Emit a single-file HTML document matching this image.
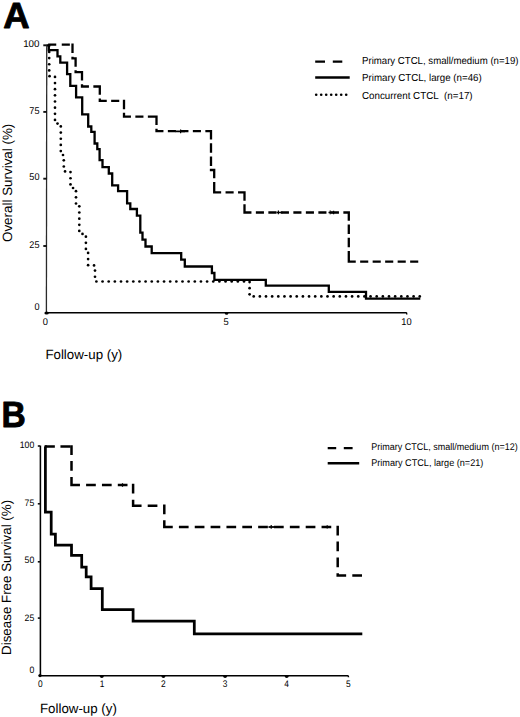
<!DOCTYPE html>
<html><head><meta charset="utf-8"><style>
html,body{margin:0;padding:0;background:#fff;width:520px;height:717px;overflow:hidden;}
svg{position:absolute;left:0;top:0;display:block;}
text{font-family:"Liberation Sans",sans-serif;fill:#000;}
</style></head><body>
<svg width="520" height="717" viewBox="0 0 520 717" text-rendering="geometricPrecision">
<rect width="520" height="717" fill="#fff"/>
<text transform="translate(3.20,28.10)" text-anchor="start" font-size="36.50" font-weight="bold" stroke="#000" stroke-width="0.9" stroke-linejoin="round">A</text>
<text transform="translate(1.60,426.80) scale(0.920,1)" text-anchor="start" font-size="36.50" font-weight="bold" stroke="#000" stroke-width="0.9" stroke-linejoin="round">B</text>
<path d="M46.75,44.6 L46.4,312.8" stroke="#2a2a2a" stroke-width="1.3" fill="none"/>
<path d="M46.4,312.8 H406.2 Q406.8,312.8 406.8,314.5" stroke="#000" stroke-width="1.45" fill="none"/>
<path d="M43.3,45.3 H46.8" stroke="#111" stroke-width="1.9"/>
<path d="M43.3,111.9 H46.8" stroke="#111" stroke-width="1.9"/>
<path d="M43.3,178.7 H46.8" stroke="#111" stroke-width="1.9"/>
<path d="M43.3,246.0 H46.8" stroke="#111" stroke-width="1.9"/>
<ellipse cx="46.6" cy="312.9" rx="2.2" ry="1.5" fill="#000"/>
<ellipse cx="226.6" cy="313.4" rx="1.7" ry="1.3" fill="#000"/>
<text transform="translate(39.50,47.40)" text-anchor="end" font-size="9.80">100</text>
<text transform="translate(39.50,114.10) scale(0.930,1)" text-anchor="end" font-size="9.80">75</text>
<text transform="translate(39.50,180.40) scale(0.930,1)" text-anchor="end" font-size="9.80">50</text>
<text transform="translate(39.50,248.10) scale(0.930,1)" text-anchor="end" font-size="9.80">25</text>
<text transform="translate(39.50,310.40) scale(0.930,1)" text-anchor="end" font-size="9.80">0</text>
<text transform="translate(45.40,324.80) scale(0.950,1)" text-anchor="middle" font-size="9.80">0</text>
<text transform="translate(226.00,324.80) scale(0.950,1)" text-anchor="middle" font-size="9.80">5</text>
<text transform="translate(406.50,324.80) scale(0.950,1)" text-anchor="middle" font-size="9.80">10</text>
<text transform="translate(45.40,358.80)" text-anchor="start" font-size="13.30">Follow-up (y)</text>
<text transform="translate(11.80,242.00) rotate(-90)" text-anchor="start" font-size="13.40">Overall Survival (%)</text>
<g fill="#000"><circle cx="49.20" cy="45.80" r="1.35"/><circle cx="49.20" cy="51.95" r="1.35"/><circle cx="49.20" cy="58.10" r="1.35"/><circle cx="49.20" cy="64.25" r="1.35"/><circle cx="49.20" cy="70.40" r="1.35"/><circle cx="49.55" cy="76.20" r="1.35"/><circle cx="55.00" cy="76.90" r="1.35"/><circle cx="55.00" cy="83.05" r="1.35"/><circle cx="55.00" cy="89.20" r="1.35"/><circle cx="55.00" cy="95.35" r="1.35"/><circle cx="55.00" cy="101.50" r="1.35"/><circle cx="55.00" cy="107.65" r="1.35"/><circle cx="55.00" cy="113.80" r="1.35"/><circle cx="55.00" cy="119.95" r="1.35"/><circle cx="57.50" cy="123.60" r="1.35"/><circle cx="60.80" cy="126.45" r="1.35"/><circle cx="60.80" cy="132.60" r="1.35"/><circle cx="60.80" cy="138.75" r="1.35"/><circle cx="60.80" cy="144.90" r="1.35"/><circle cx="60.80" cy="151.05" r="1.35"/><circle cx="63.00" cy="155.00" r="1.35"/><circle cx="63.80" cy="160.35" r="1.35"/><circle cx="63.80" cy="166.50" r="1.35"/><circle cx="65.05" cy="171.40" r="1.35"/><circle cx="70.50" cy="172.10" r="1.35"/><circle cx="70.50" cy="178.25" r="1.35"/><circle cx="70.50" cy="184.40" r="1.35"/><circle cx="73.05" cy="188.00" r="1.35"/><circle cx="76.00" cy="191.20" r="1.35"/><circle cx="76.00" cy="197.35" r="1.35"/><circle cx="76.00" cy="203.50" r="1.35"/><circle cx="79.30" cy="206.35" r="1.35"/><circle cx="79.30" cy="212.50" r="1.35"/><circle cx="79.30" cy="218.65" r="1.35"/><circle cx="79.30" cy="224.80" r="1.35"/><circle cx="79.30" cy="230.95" r="1.35"/><circle cx="82.50" cy="233.90" r="1.35"/><circle cx="85.90" cy="236.65" r="1.35"/><circle cx="85.90" cy="242.80" r="1.35"/><circle cx="85.90" cy="248.95" r="1.35"/><circle cx="88.10" cy="252.90" r="1.35"/><circle cx="88.10" cy="259.05" r="1.35"/><circle cx="88.10" cy="265.20" r="1.35"/><circle cx="94.05" cy="265.40" r="1.35"/><circle cx="95.00" cy="270.60" r="1.35"/><circle cx="95.00" cy="276.75" r="1.35"/><circle cx="96.40" cy="281.50" r="1.35"/><circle cx="102.55" cy="281.50" r="1.35"/><circle cx="108.70" cy="281.50" r="1.35"/><circle cx="114.85" cy="281.50" r="1.35"/><circle cx="121.00" cy="281.50" r="1.35"/><circle cx="127.15" cy="281.50" r="1.35"/><circle cx="133.30" cy="281.50" r="1.35"/><circle cx="139.45" cy="281.50" r="1.35"/><circle cx="145.60" cy="281.50" r="1.35"/><circle cx="151.75" cy="281.50" r="1.35"/><circle cx="157.90" cy="281.50" r="1.35"/><circle cx="164.05" cy="281.50" r="1.35"/><circle cx="170.20" cy="281.50" r="1.35"/><circle cx="176.35" cy="281.50" r="1.35"/><circle cx="182.50" cy="281.50" r="1.35"/><circle cx="188.65" cy="281.50" r="1.35"/><circle cx="194.80" cy="281.50" r="1.35"/><circle cx="200.95" cy="281.50" r="1.35"/><circle cx="207.10" cy="281.50" r="1.35"/><circle cx="213.25" cy="281.50" r="1.35"/><circle cx="219.40" cy="281.50" r="1.35"/><circle cx="225.55" cy="281.50" r="1.35"/><circle cx="231.70" cy="281.50" r="1.35"/><circle cx="237.85" cy="281.50" r="1.35"/><circle cx="244.00" cy="281.50" r="1.35"/><circle cx="249.60" cy="282.05" r="1.35"/><circle cx="249.60" cy="288.20" r="1.35"/><circle cx="249.60" cy="294.35" r="1.35"/><circle cx="253.70" cy="296.40" r="1.35"/><circle cx="259.85" cy="296.40" r="1.35"/><circle cx="266.00" cy="296.40" r="1.35"/><circle cx="272.15" cy="296.40" r="1.35"/><circle cx="278.30" cy="296.40" r="1.35"/><circle cx="284.45" cy="296.40" r="1.35"/><circle cx="290.60" cy="296.40" r="1.35"/><circle cx="296.75" cy="296.40" r="1.35"/><circle cx="302.90" cy="296.40" r="1.35"/><circle cx="309.05" cy="296.40" r="1.35"/><circle cx="315.20" cy="296.40" r="1.35"/><circle cx="321.35" cy="296.40" r="1.35"/><circle cx="327.50" cy="296.40" r="1.35"/><circle cx="333.65" cy="296.40" r="1.35"/><circle cx="339.80" cy="296.40" r="1.35"/><circle cx="345.95" cy="296.40" r="1.35"/><circle cx="352.10" cy="296.40" r="1.35"/><circle cx="358.25" cy="296.40" r="1.35"/><circle cx="364.40" cy="296.40" r="1.35"/><circle cx="370.55" cy="296.40" r="1.35"/><circle cx="376.70" cy="296.40" r="1.35"/><circle cx="382.85" cy="296.40" r="1.35"/><circle cx="389.00" cy="296.40" r="1.35"/><circle cx="395.15" cy="296.40" r="1.35"/><circle cx="401.30" cy="296.40" r="1.35"/><circle cx="407.45" cy="296.40" r="1.35"/><circle cx="413.60" cy="296.40" r="1.35"/><circle cx="419.75" cy="296.40" r="1.35"/></g>
<path d="M49.30,44.60L55.10,44.60M62.90,44.60L68.70,44.60M72.50,44.60L72.50,51.80M72.50,57.80L72.50,58.30M72.50,58.30L75.60,58.30M75.60,58.30L75.60,65.50M75.60,71.50L75.60,72.20M75.60,72.20L81.40,72.20M82.00,72.20L82.00,79.40M82.00,85.40L82.00,86.50M82.00,86.50L87.80,86.50M94.50,86.50L99.80,86.50M99.80,86.50L99.80,93.70M99.80,99.70L99.80,100.80M99.80,100.80L105.60,100.80M112.30,100.80L118.10,100.80M124.00,100.80L124.00,108.00M124.00,114.00L124.00,116.70M124.00,116.70L129.80,116.70M136.50,116.70L142.30,116.70M149.00,116.70L154.80,116.70M156.50,116.70L156.50,123.90M156.50,129.90L156.50,131.20M156.50,131.20L162.30,131.20M169.00,131.20L174.80,131.20M181.50,131.20L187.30,131.20M194.00,131.20L199.80,131.20M206.50,131.20L211.00,131.20M211.00,131.20L211.00,138.40M211.00,144.40L211.00,151.60M211.00,157.60L211.00,164.80M211.00,170.00L214.20,170.00M214.20,170.00L214.20,177.20M214.20,183.20L214.20,190.40M214.20,192.30L220.00,192.30M226.70,192.30L232.50,192.30M239.20,192.30L244.50,192.30M244.50,192.30L244.50,199.50M244.50,205.50L244.50,212.50M244.50,212.50L250.30,212.50M257.00,212.50L262.80,212.50M269.50,212.50L275.30,212.50M282.00,212.50L287.80,212.50M294.50,212.50L300.30,212.50M307.00,212.50L312.80,212.50M319.50,212.50L325.30,212.50M332.00,212.50L337.80,212.50M344.50,212.50L348.80,212.50M348.80,212.50L348.80,219.70M348.80,225.70L348.80,232.90M348.80,238.90L348.80,246.10M348.80,252.10L348.80,259.30M348.80,261.70L354.60,261.70M361.30,261.70L367.10,261.70M373.80,261.70L379.60,261.70M386.30,261.70L392.10,261.70M398.80,261.70L404.60,261.70M411.30,261.70L417.10,261.70" stroke="#000" stroke-width="2.30" stroke-linecap="square" fill="none"/>
<path d="M47.0,45.3 L48.8,45.3 L48.8,50.1 L57.5,50.1 L57.5,56.3 L60.3,56.3 L60.3,62.6 L67.1,62.6 L67.1,74.1 L70.3,74.1 L70.3,85.8 L76.1,85.8 L76.1,97.3 L82.2,97.3 L82.2,114.4 L88.2,114.4 L88.2,126.5 L91.3,126.5 L91.3,131.9 L94.6,131.9 L94.6,143.5 L97.3,143.5 L97.3,149.2 L99.6,149.2 L99.6,160.2 L102.5,160.2 L102.5,167.1 L108.8,167.1 L108.8,173.5 L112.2,173.5 L112.2,185.4 L118.1,185.4 L118.1,191.2 L127.1,191.2 L127.1,203.3 L130.3,203.3 L130.3,209.0 L136.9,209.0 L136.9,215.6 L140.3,215.6 L140.3,232.7 L142.5,232.7 L142.5,239.6 L145.5,239.6 L145.5,246.5 L151.7,246.5 L151.7,253.2 L181.2,253.2 L181.2,259.6 L184.8,259.6 L184.8,266.5 L211.9,266.5 L211.9,273.0 L214.4,273.0 L214.4,279.8 L265.8,279.8 L265.8,285.7 L328.8,285.7 L328.8,291.9 L366.0,291.9 L366.0,298.6 L420.3,298.6" stroke="#000" stroke-width="2.3" fill="none" stroke-linejoin="miter"/>
<path d="M175.5,131.4 H185 M276.5,212.5 H283 M328.5,212.5 H334" stroke="#000" stroke-width="1.7"/>
<path d="M180.6,129.6 V133.2 M278.4,210.6 V214.3 M330.2,210.6 V214.3 M333.6,210.8 V214.2" stroke="#000" stroke-width="1.2"/>
<path d="M315.2,61.6 H325 M332.8,61.6 H342.3" stroke="#000" stroke-width="2.4"/>
<path d="M315.2,77.5 H349.7" stroke="#000" stroke-width="2.4"/>
<g fill="#000"><circle cx="316.2" cy="94.8" r="1.3"/><circle cx="321.2" cy="94.8" r="1.3"/><circle cx="326.2" cy="94.8" r="1.3"/><circle cx="331.2" cy="94.8" r="1.3"/><circle cx="336.2" cy="94.8" r="1.3"/><circle cx="341.2" cy="94.8" r="1.3"/><circle cx="346.2" cy="94.8" r="1.3"/></g>
<text transform="translate(362.00,63.90) scale(0.945,1)" text-anchor="start" font-size="10.20">Primary CTCL, small/medium (n=19)</text>
<text transform="translate(362.00,81.20) scale(0.955,1)" text-anchor="start" font-size="10.20">Primary CTCL, large (n=46)</text>
<text transform="translate(362.00,98.80) scale(0.960,1)" text-anchor="start" font-size="10.20">Concurrent CTCL&#160; (n=17)</text>
<path d="M40.4,445.5 V675.7 H347.6 Q348.5,675.7 348.5,677.2" stroke="#000" stroke-width="1.55" fill="none"/>
<path d="M37.8,446.0 H40" stroke="#111" stroke-width="1.6"/>
<path d="M37.8,503.8 H40" stroke="#111" stroke-width="1.6"/>
<path d="M37.8,561.8 H40" stroke="#111" stroke-width="1.6"/>
<path d="M37.8,618.1 H40" stroke="#111" stroke-width="1.6"/>
<circle cx="40" cy="675.6" r="1.7" fill="#000"/>
<text transform="translate(34.30,448.10) scale(0.930,1)" text-anchor="end" font-size="9.40">100</text>
<text transform="translate(34.30,506.30) scale(0.930,1)" text-anchor="end" font-size="9.40">75</text>
<text transform="translate(34.30,563.40) scale(0.930,1)" text-anchor="end" font-size="9.40">50</text>
<text transform="translate(34.30,621.20) scale(0.930,1)" text-anchor="end" font-size="9.40">25</text>
<text transform="translate(34.30,673.00) scale(0.930,1)" text-anchor="end" font-size="9.40">0</text>
<text transform="translate(40.20,687.00) scale(0.880,1)" text-anchor="middle" font-size="9.50">0</text>
<text transform="translate(102.12,687.00) scale(0.880,1)" text-anchor="middle" font-size="9.50">1</text>
<ellipse cx="101.8" cy="676.6" rx="1.9" ry="1.3" fill="#000"/>
<text transform="translate(163.44,687.00) scale(0.880,1)" text-anchor="middle" font-size="9.50">2</text>
<ellipse cx="163.4" cy="676.6" rx="1.9" ry="1.3" fill="#000"/>
<text transform="translate(225.06,687.00) scale(0.880,1)" text-anchor="middle" font-size="9.50">3</text>
<ellipse cx="225.1" cy="676.6" rx="1.9" ry="1.3" fill="#000"/>
<text transform="translate(286.68,687.00) scale(0.880,1)" text-anchor="middle" font-size="9.50">4</text>
<ellipse cx="286.7" cy="676.6" rx="1.9" ry="1.3" fill="#000"/>
<text transform="translate(348.30,687.00) scale(0.880,1)" text-anchor="middle" font-size="9.50">5</text>
<text transform="translate(40.00,713.00)" text-anchor="start" font-size="13.30">Follow-up (y)</text>
<text transform="translate(11.30,654.90) rotate(-90)" text-anchor="start" font-size="13.35">Disease Free Survival (%)</text>
<path d="M46.40,446.50L53.60,446.50M61.70,446.50L68.90,446.50M71.50,446.50L71.50,453.70M71.50,462.35L71.50,469.55M71.50,478.20L71.50,485.10M71.50,485.10L78.70,485.10M87.35,485.10L94.55,485.10M103.20,485.10L110.40,485.10M119.05,485.10L126.25,485.10M133.10,485.10L133.10,492.30M133.10,500.95L133.10,505.70M133.10,505.70L140.30,505.70M148.95,505.70L156.15,505.70M164.30,505.70L164.30,512.90M164.30,521.55L164.30,527.00M164.30,527.00L171.50,527.00M180.15,527.00L187.35,527.00M196.00,527.00L203.20,527.00M211.85,527.00L219.05,527.00M227.70,527.00L234.90,527.00M243.55,527.00L250.75,527.00M259.40,527.00L266.60,527.00M275.25,527.00L282.45,527.00M291.10,527.00L298.30,527.00M306.95,527.00L314.15,527.00M322.80,527.00L330.00,527.00M337.70,527.00L337.70,534.20M337.70,542.85L337.70,550.05M337.70,558.70L337.70,565.90M337.70,574.55L337.70,575.50M337.70,575.50L344.90,575.50M353.55,575.50L360.75,575.50" stroke="#000" stroke-width="2.50" stroke-linecap="square" fill="none"/>
<path d="M44.5,446.5 L45.4,446.5 L45.4,512.0 L51.2,512.0 L51.2,534.1 L55.4,534.1 L55.4,545.1 L71.5,545.1 L71.5,555.4 L81.7,555.4 L81.7,567.2 L86.2,567.2 L86.2,576.9 L91.1,576.9 L91.1,588.5 L102.3,588.5 L102.3,609.5 L133.1,609.5 L133.1,621.2 L194.3,621.2 L194.3,633.8 L362.3,633.8" stroke="#000" stroke-width="2.75" fill="none"/>
<path d="M268.5,527 H274.5" stroke="#000" stroke-width="1.8"/>
<path d="M122.5,483.2 V486.8 M271.2,525 V528.8 M327.2,525.2 V528.6" stroke="#000" stroke-width="1.2"/>
<path d="M327.7,448.1 H336.2 M343.8,448.1 H352.6" stroke="#000" stroke-width="2.4"/>
<path d="M327.7,463.2 H359.2" stroke="#000" stroke-width="2.4"/>
<text transform="translate(371.20,450.40) scale(0.920,1)" text-anchor="start" font-size="9.80">Primary CTCL, small/medium (n=12)</text>
<text transform="translate(371.20,465.80) scale(0.930,1)" text-anchor="start" font-size="9.80">Primary CTCL, large (n=21)</text>
</svg>
</body></html>
